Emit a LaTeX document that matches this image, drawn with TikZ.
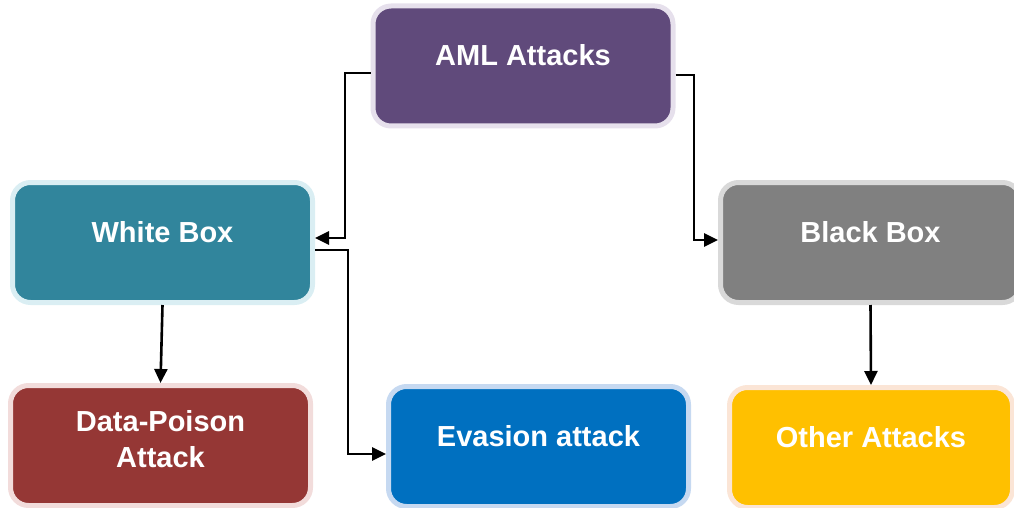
\documentclass[tikz,border=0pt]{standalone}
\usepackage{fontspec}
\setmainfont{Liberation Sans}
\usetikzlibrary{arrows.meta}

\definecolor{amlfill}{HTML}{604A7B}
\definecolor{amlhalo}{HTML}{E6E0EC}
\definecolor{whitefill}{HTML}{31859C}
\definecolor{whitehalo}{HTML}{DAEEF3}
\definecolor{blackfill}{HTML}{808080}
\definecolor{blackhalo}{HTML}{D9D9D9}
\definecolor{poisonfill}{HTML}{953735}
\definecolor{poisonhalo}{HTML}{F2DCDB}
\definecolor{evasionfill}{HTML}{0070C0}
\definecolor{evasionhalo}{HTML}{C6D9F1}
\definecolor{otherfill}{HTML}{FFC000}
\definecolor{otherhalo}{HTML}{FBE5D6}

\tikzset{
    attackbox/.style 2 args={draw=#2, fill=#1, line width=5pt,
        rounded corners=18pt, minimum width=300pt, minimum height=120pt,
        inner sep=0pt, text height=45pt, text depth=45pt, text=white,
        align=center, font=\bfseries\fontsize{29}{36}\selectfont},
    link/.style={line width=2.6pt, -{Triangle[length=14pt,width=13pt]}}
}

\begin{document}
\begin{tikzpicture}[x=1pt,y=1pt]
    \useasboundingbox (0,0) rectangle (1014,-508);

    \node[attackbox={amlfill}{amlhalo}] (aml) at (523,-66) {AML Attacks};
    \node[attackbox={whitefill}{whitehalo}] (white) at (162.5,-242.5) {White Box};
    \node[attackbox={blackfill}{blackhalo}] (black) at (870.5,-242.5) {Black Box};
    \node[attackbox={poisonfill}{poisonhalo}] (poison) at (160.5,-445.5)
        {\raisebox{-3pt}{\begin{tabular}{@{}c@{}}Data-Poison\\Attack\end{tabular}}};
    \node[attackbox={evasionfill}{evasionhalo}] (evasion) at (538.5,-446.5) {Evasion attack};
    \node[attackbox={otherfill}{otherhalo}, minimum width=283pt] (other) at (871,-447.5) {Other Attacks};

    % connectors
    \draw[link] ([yshift=-7pt]aml.west) -| ([xshift=30pt,yshift=4.5pt]white.east)
        -- ([yshift=4.5pt]white.east);
    \draw[link] ([yshift=-9pt]aml.east) -| ([xshift=-24pt,yshift=2.5pt]black.west)
        -- ([yshift=2.5pt]black.west);
    \draw[link] ([yshift=-7.5pt]white.east) -| ([xshift=-38pt,yshift=-7.5pt]evasion.west)
        -- ([yshift=-7.5pt]evasion.west);
    \draw[link] (white.south) -- (poison.north);
    \draw[link] (black.south) -- (other.north);
\end{tikzpicture}
\end{document}
